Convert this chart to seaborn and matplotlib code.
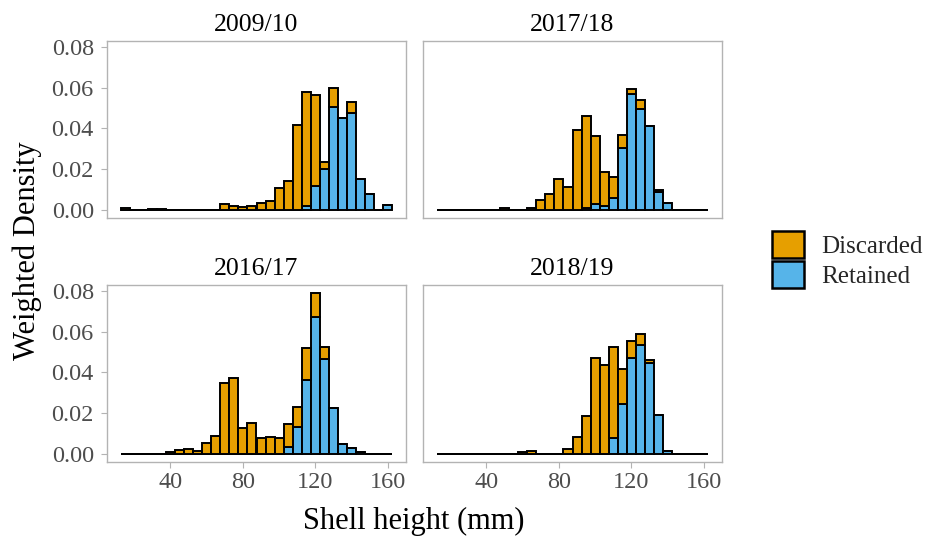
import numpy as np
import pandas as pd
import matplotlib
matplotlib.use("Agg")
import matplotlib.pyplot as plt
from matplotlib.patches import Patch
import seaborn as sns

# 5 mm shell-height bins, 12.5 to 162.5 mm
bin_start, bin_stop, bin_width = 12.5, 162.5, 5.0
bin_mids = np.arange(bin_start + bin_width / 2, bin_stop, bin_width)

seasons = ["2009/10", "2017/18", "2016/17", "2018/19"]
groups = ["Discarded", "Retained"]
colors = {"Discarded": "#E69F00", "Retained": "#56B4E9"}

# Weighted density per bin for each season
discarded_0910 = [0.0008, 0, 0, 0.0007, 0.0007, 0, 0, 0, 0, 0,
                  0, 0.0029, 0.0018, 0.0013, 0.0020, 0.0036, 0.0042, 0.0106, 0.0140, 0.0416,
                  0.0559, 0.0444, 0.0030, 0.0093, 0, 0.0051, 0, 0, 0, 0]
retained_0910 = [0, 0, 0, 0, 0, 0, 0, 0, 0, 0,
                 0, 0, 0, 0, 0, 0, 0, 0, 0, 0,
                 0.0020, 0.0119, 0.0203, 0.0504, 0.0450, 0.0476, 0.0154, 0.0078, 0, 0.0026]

discarded_1718 = [0, 0, 0, 0, 0, 0, 0, 0.0010, 0, 0,
                  0.0008, 0.0050, 0.0076, 0.0150, 0.0112, 0.0392, 0.0450, 0.0333, 0.0167, 0.0107,
                  0.0064, 0.0024, 0.0048, 0, 0.0013, 0, 0, 0, 0, 0]
retained_1718 = [0, 0, 0, 0, 0, 0, 0, 0, 0, 0,
                 0, 0, 0, 0, 0, 0, 0.0010, 0.0030, 0.0020, 0.0057,
                 0.0302, 0.0571, 0.0493, 0.0411, 0.0086, 0.0034, 0, 0, 0, 0]

discarded_1617 = [0, 0, 0, 0, 0, 0.0010, 0.0018, 0.0023, 0.0015, 0.0052,
                  0.0088, 0.0349, 0.0372, 0.0129, 0.0153, 0.0078, 0.0083, 0.0077, 0.0113, 0.0098,
                  0.0155, 0.0116, 0.0060, 0, 0, 0, 0, 0, 0, 0]
retained_1617 = [0, 0, 0, 0, 0, 0, 0, 0, 0, 0,
                 0, 0, 0, 0, 0, 0, 0, 0, 0.0034, 0.0132,
                 0.0365, 0.0673, 0.0466, 0.0223, 0.0050, 0.0029, 0.0008, 0, 0, 0]

discarded_1819 = [0, 0, 0, 0, 0, 0, 0, 0, 0, 0.0010,
                  0.0013, 0, 0, 0, 0.0023, 0.0085, 0.0184, 0.0471, 0.0435, 0.0448,
                  0.0171, 0.0083, 0.0054, 0.0014, 0, 0, 0, 0, 0, 0]
retained_1819 = [0, 0, 0, 0, 0, 0, 0, 0, 0, 0,
                 0, 0, 0, 0, 0, 0, 0, 0, 0, 0.0078,
                 0.0246, 0.0471, 0.0536, 0.0445, 0.0191, 0.0013, 0, 0, 0, 0]

season_values = {
    "2009/10": (discarded_0910, retained_0910),
    "2017/18": (discarded_1718, retained_1718),
    "2016/17": (discarded_1617, retained_1617),
    "2018/19": (discarded_1819, retained_1819),
}

x_ticks = [40, 80, 120, 160]
y_ticks = [0.00, 0.02, 0.04, 0.06, 0.08]

rows = []
for season, (disc, ret) in season_values.items():
    for grp, vals in zip(groups, (disc, ret)):
        for m, v in zip(bin_mids, vals):
            rows.append({"season": season, "status": grp, "height": float(m), "density": float(v)})
df = pd.DataFrame(rows)

sns.set_theme(style="white")
plt.rcParams["font.family"] = ["Liberation Serif", "DejaVu Serif"]

fig = plt.figure(figsize=(9.25, 5.39), dpi=100)
W, H = 925, 539

# panel boxes in pixels: (left, top, right, bottom)
boxes = {
    "2009/10": (107, 41, 406, 218),
    "2017/18": (423, 41, 722, 218),
    "2016/17": (107, 285, 406, 462),
    "2018/19": (423, 285, 722, 462),
}

ymax_data = 0.0789
yr = ymax_data * 0.05
xr = (bin_stop - bin_start) * 0.05

grey_border = "#B3B3B3"
grey_text = "#4D4D4D"

for season in seasons:
    l, t, r, b = boxes[season]
    ax = fig.add_axes([l / W, 1 - b / H, (r - l) / W, (b - t) / H])
    sub = df[df["season"] == season].reset_index(drop=True)
    sns.histplot(data=sub, x="height", weights="density", hue="status",
                 hue_order=groups, palette=colors,
                 binwidth=bin_width, binrange=(bin_start, bin_stop),
                 multiple="stack", stat="count", alpha=1,
                 edgecolor="black", linewidth=1.4, legend=False, ax=ax)
    ax.set_xlim(bin_start - xr, bin_stop + xr)
    ax.set_ylim(-yr, ymax_data + yr)
    ax.set_xticks(x_ticks)
    ax.set_yticks(y_ticks)
    ax.set_yticklabels([f"{v:.2f}" for v in y_ticks])
    ax.set_xlabel("")
    ax.set_ylabel("")
    ax.set_title(season, fontsize=18.5, color="black", pad=7)
    for sp in ax.spines.values():
        sp.set_color(grey_border)
        sp.set_linewidth(1.0)
    ax.tick_params(axis="both", which="both", direction="out", length=4.5,
                   width=0.8, color=grey_border, labelcolor=grey_text,
                   labelsize=17.5)
    ax.tick_params(axis="x", pad=2.5)
    ax.tick_params(axis="y", pad=5)
    ax.tick_params(axis="both", left=True, bottom=True)
    if season in ("2009/10", "2017/18"):
        ax.tick_params(axis="x", bottom=False, labelbottom=False)
    if season in ("2017/18", "2018/19"):
        ax.tick_params(axis="y", left=False, labelleft=False)
    ax.grid(False)

fig.text(27 / W, 1 - 251 / H, "Weighted Density", rotation=90,
         ha="center", va="center", fontsize=22, color="black")
fig.text(414 / W, 1 - 521 / H, "Shell height (mm)",
         ha="center", va="center", fontsize=22, color="black")

handles = [Patch(facecolor=colors[g], edgecolor="black", linewidth=1.8, label=g)
           for g in groups]
fig.legend(handles=handles, loc="center left", bbox_to_anchor=(772 / W, 1 - 259.5 / H),
           frameon=False, fontsize=18, handlelength=1.28, handleheight=1.28,
           handletextpad=0.7, labelspacing=0.12, borderaxespad=0, borderpad=0)

fig.savefig("out.png", dpi=100)
